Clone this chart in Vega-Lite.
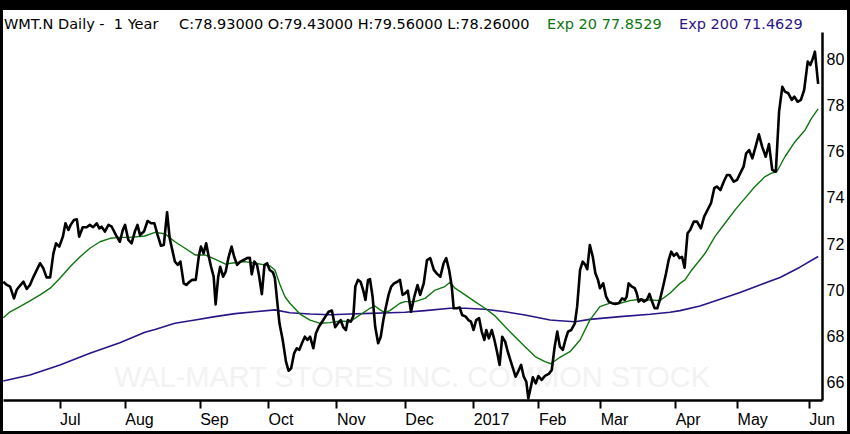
{
  "$schema": "https://vega.github.io/schema/vega-lite/v6.json",
  "width": 819,
  "height": 368,
  "autosize": {"type": "none"},
  "padding": {"left": 3, "top": 32, "right": 28, "bottom": 34},
  "background": "#ffffff",
  "config": {"view": {"stroke": null}},
  "datasets": {
    "header": [
      {"t": "WMT.N Daily -\u00a0 1 Year", "k": "close", "d": -17.07, "v": 81.33},
      {"t": "C:78.93000 O:79.43000 H:79.56000 L:78.26000", "k": "close", "d": 36.66, "v": 81.33},
      {"t": "Exp 20 77.8529", "k": "ema20", "d": 149.66, "v": 81.33},
      {"t": "Exp 200 71.4629", "k": "ema200", "d": 190.17, "v": 81.33}
    ],
    "watermark": [
      {"t": "WAL-MART STORES INC. COMMON STOCK", "d": 108.2, "v": 65.81}
    ],
    "border": [
      {"d": -18.30, "d2": 242.68, "v": 82.567, "v2": 82.134},
      {"d": -18.30, "d2": 242.68, "v": 63.909, "v2": 63.779},
      {"d": -18.30, "d2": -17.38, "v": 82.567, "v2": 63.779},
      {"d": 241.76, "d2": 242.68, "v": 82.567, "v2": 63.779}
    ],
    "prices": [
      {"s": "close", "d": -17.3, "v": 70.37}, {"s": "close", "d": -16.2, "v": 70.23}, {"s": "close", "d": -15.2, "v": 70.16},
      {"s": "close", "d": -14.0, "v": 69.65}, {"s": "close", "d": -13.2, "v": 70.01}, {"s": "close", "d": -12.4, "v": 70.16},
      {"s": "close", "d": -11.1, "v": 70.37}, {"s": "close", "d": -10.1, "v": 70.06}, {"s": "close", "d": -9.1, "v": 70.23},
      {"s": "close", "d": -8.1, "v": 70.56}, {"s": "close", "d": -7.0, "v": 70.88}, {"s": "close", "d": -6.0, "v": 71.17},
      {"s": "close", "d": -5.0, "v": 70.95}, {"s": "close", "d": -4.0, "v": 70.56}, {"s": "close", "d": -2.9, "v": 70.56},
      {"s": "close", "d": -1.9, "v": 71.60}, {"s": "close", "d": -1.1, "v": 72.03}, {"s": "close", "d": -0.1, "v": 71.89},
      {"s": "close", "d": 1.0, "v": 72.32}, {"s": "close", "d": 1.8, "v": 72.90}, {"s": "close", "d": 2.7, "v": 72.61},
      {"s": "close", "d": 3.4, "v": 72.83}, {"s": "close", "d": 4.4, "v": 73.04}, {"s": "close", "d": 5.3, "v": 73.07},
      {"s": "close", "d": 6.0, "v": 72.32}, {"s": "close", "d": 7.1, "v": 72.73}, {"s": "close", "d": 8.3, "v": 72.73},
      {"s": "close", "d": 9.3, "v": 72.83}, {"s": "close", "d": 10.3, "v": 72.73}, {"s": "close", "d": 11.4, "v": 72.90},
      {"s": "close", "d": 12.2, "v": 72.68}, {"s": "close", "d": 12.9, "v": 72.75}, {"s": "close", "d": 13.9, "v": 72.54},
      {"s": "close", "d": 15.0, "v": 72.83}, {"s": "close", "d": 16.0, "v": 72.75}, {"s": "close", "d": 17.3, "v": 72.39},
      {"s": "close", "d": 18.5, "v": 72.10}, {"s": "close", "d": 19.4, "v": 72.61}, {"s": "close", "d": 20.1, "v": 72.83},
      {"s": "close", "d": 21.1, "v": 72.18}, {"s": "close", "d": 22.1, "v": 72.03}, {"s": "close", "d": 23.1, "v": 72.54},
      {"s": "close", "d": 23.9, "v": 72.83}, {"s": "close", "d": 24.7, "v": 72.39}, {"s": "close", "d": 25.9, "v": 72.54},
      {"s": "close", "d": 27.0, "v": 73.00}, {"s": "close", "d": 28.1, "v": 72.90}, {"s": "close", "d": 29.1, "v": 72.90},
      {"s": "close", "d": 30.1, "v": 72.39}, {"s": "close", "d": 31.1, "v": 71.93}, {"s": "close", "d": 32.0, "v": 71.96},
      {"s": "close", "d": 33.0, "v": 73.38}, {"s": "close", "d": 33.8, "v": 72.25}, {"s": "close", "d": 34.6, "v": 71.74},
      {"s": "close", "d": 35.4, "v": 71.24}, {"s": "close", "d": 36.3, "v": 71.10}, {"s": "close", "d": 37.1, "v": 71.24},
      {"s": "close", "d": 38.1, "v": 70.30}, {"s": "close", "d": 38.9, "v": 70.23}, {"s": "close", "d": 39.9, "v": 70.37},
      {"s": "close", "d": 40.7, "v": 70.45}, {"s": "close", "d": 41.8, "v": 70.45}, {"s": "close", "d": 42.8, "v": 71.53},
      {"s": "close", "d": 43.4, "v": 71.89}, {"s": "close", "d": 44.2, "v": 71.60}, {"s": "close", "d": 45.0, "v": 72.03},
      {"s": "close", "d": 45.7, "v": 71.53}, {"s": "close", "d": 46.5, "v": 71.02}, {"s": "close", "d": 47.3, "v": 70.59},
      {"s": "close", "d": 47.9, "v": 69.39}, {"s": "close", "d": 48.7, "v": 70.59}, {"s": "close", "d": 49.3, "v": 71.02},
      {"s": "close", "d": 50.2, "v": 70.59}, {"s": "close", "d": 51.0, "v": 70.81}, {"s": "close", "d": 51.8, "v": 71.39},
      {"s": "close", "d": 52.8, "v": 71.89}, {"s": "close", "d": 53.6, "v": 71.45}, {"s": "close", "d": 54.5, "v": 71.10},
      {"s": "close", "d": 55.5, "v": 71.24}, {"s": "close", "d": 56.5, "v": 71.31}, {"s": "close", "d": 57.5, "v": 71.39},
      {"s": "close", "d": 58.4, "v": 71.41}, {"s": "close", "d": 59.0, "v": 70.69}, {"s": "close", "d": 59.8, "v": 71.24},
      {"s": "close", "d": 60.6, "v": 71.10}, {"s": "close", "d": 61.2, "v": 70.66}, {"s": "close", "d": 62.1, "v": 69.83},
      {"s": "close", "d": 62.9, "v": 71.10}, {"s": "close", "d": 63.7, "v": 71.17}, {"s": "close", "d": 64.5, "v": 70.88},
      {"s": "close", "d": 65.5, "v": 70.78}, {"s": "close", "d": 66.1, "v": 70.52}, {"s": "close", "d": 67.5, "v": 68.57},
      {"s": "close", "d": 68.5, "v": 67.85}, {"s": "close", "d": 69.5, "v": 66.91}, {"s": "close", "d": 70.3, "v": 66.52},
      {"s": "close", "d": 71.1, "v": 66.62}, {"s": "close", "d": 72.0, "v": 67.27}, {"s": "close", "d": 72.8, "v": 67.49},
      {"s": "close", "d": 73.6, "v": 67.42}, {"s": "close", "d": 74.4, "v": 67.71}, {"s": "close", "d": 75.3, "v": 67.99},
      {"s": "close", "d": 76.1, "v": 67.85}, {"s": "close", "d": 76.9, "v": 67.99}, {"s": "close", "d": 77.9, "v": 67.49},
      {"s": "close", "d": 78.7, "v": 68.14}, {"s": "close", "d": 79.6, "v": 68.42}, {"s": "close", "d": 80.6, "v": 68.64},
      {"s": "close", "d": 81.6, "v": 68.86}, {"s": "close", "d": 82.6, "v": 69.07}, {"s": "close", "d": 83.6, "v": 69.12},
      {"s": "close", "d": 84.6, "v": 68.40}, {"s": "close", "d": 85.5, "v": 68.57}, {"s": "close", "d": 86.3, "v": 68.71},
      {"s": "close", "d": 87.1, "v": 68.40}, {"s": "close", "d": 87.9, "v": 68.28}, {"s": "close", "d": 88.5, "v": 68.71},
      {"s": "close", "d": 89.4, "v": 68.64}, {"s": "close", "d": 90.2, "v": 68.89}, {"s": "close", "d": 90.8, "v": 70.16},
      {"s": "close", "d": 91.6, "v": 70.45}, {"s": "close", "d": 92.4, "v": 70.37}, {"s": "close", "d": 93.2, "v": 70.01},
      {"s": "close", "d": 93.9, "v": 69.58}, {"s": "close", "d": 94.7, "v": 70.45}, {"s": "close", "d": 95.3, "v": 70.48},
      {"s": "close", "d": 96.1, "v": 69.72}, {"s": "close", "d": 96.9, "v": 68.42}, {"s": "close", "d": 97.8, "v": 67.71},
      {"s": "close", "d": 98.6, "v": 67.99}, {"s": "close", "d": 99.4, "v": 68.71}, {"s": "close", "d": 100.2, "v": 69.29},
      {"s": "close", "d": 101.0, "v": 69.80}, {"s": "close", "d": 101.8, "v": 70.16}, {"s": "close", "d": 102.7, "v": 70.30},
      {"s": "close", "d": 103.7, "v": 70.37}, {"s": "close", "d": 104.5, "v": 70.45}, {"s": "close", "d": 105.3, "v": 69.80},
      {"s": "close", "d": 106.1, "v": 69.87}, {"s": "close", "d": 106.9, "v": 69.98}, {"s": "close", "d": 107.9, "v": 69.07},
      {"s": "close", "d": 108.9, "v": 69.72}, {"s": "close", "d": 109.9, "v": 70.23}, {"s": "close", "d": 110.7, "v": 69.80},
      {"s": "close", "d": 111.8, "v": 70.30}, {"s": "close", "d": 112.8, "v": 71.31}, {"s": "close", "d": 113.8, "v": 71.39},
      {"s": "close", "d": 114.9, "v": 70.88}, {"s": "close", "d": 115.9, "v": 70.71}, {"s": "close", "d": 116.9, "v": 70.59},
      {"s": "close", "d": 117.9, "v": 71.17}, {"s": "close", "d": 118.7, "v": 71.39}, {"s": "close", "d": 119.6, "v": 70.88},
      {"s": "close", "d": 120.4, "v": 70.16}, {"s": "close", "d": 121.0, "v": 69.22}, {"s": "close", "d": 122.0, "v": 69.22},
      {"s": "close", "d": 122.8, "v": 69.26}, {"s": "close", "d": 123.6, "v": 68.93}, {"s": "close", "d": 124.7, "v": 68.86},
      {"s": "close", "d": 125.5, "v": 68.71}, {"s": "close", "d": 126.3, "v": 68.64}, {"s": "close", "d": 127.1, "v": 68.28},
      {"s": "close", "d": 127.9, "v": 68.71}, {"s": "close", "d": 128.8, "v": 68.79}, {"s": "close", "d": 129.6, "v": 68.21},
      {"s": "close", "d": 130.4, "v": 67.85}, {"s": "close", "d": 131.0, "v": 68.28}, {"s": "close", "d": 131.8, "v": 67.92},
      {"s": "close", "d": 132.7, "v": 68.28}, {"s": "close", "d": 133.5, "v": 67.85}, {"s": "close", "d": 134.3, "v": 67.34},
      {"s": "close", "d": 135.1, "v": 66.77}, {"s": "close", "d": 135.9, "v": 67.99}, {"s": "close", "d": 136.8, "v": 67.78},
      {"s": "close", "d": 137.6, "v": 67.34}, {"s": "close", "d": 138.4, "v": 66.98}, {"s": "close", "d": 139.2, "v": 66.62},
      {"s": "close", "d": 140.0, "v": 66.26}, {"s": "close", "d": 140.8, "v": 66.48}, {"s": "close", "d": 141.7, "v": 66.77},
      {"s": "close", "d": 142.5, "v": 66.26}, {"s": "close", "d": 143.3, "v": 66.04}, {"s": "close", "d": 143.9, "v": 65.32},
      {"s": "close", "d": 144.7, "v": 65.83}, {"s": "close", "d": 145.3, "v": 66.23}, {"s": "close", "d": 146.2, "v": 65.97},
      {"s": "close", "d": 147.0, "v": 66.29}, {"s": "close", "d": 148.0, "v": 66.12}, {"s": "close", "d": 149.0, "v": 66.29},
      {"s": "close", "d": 150.2, "v": 66.38}, {"s": "close", "d": 151.1, "v": 66.55}, {"s": "close", "d": 152.0, "v": 67.56},
      {"s": "close", "d": 152.8, "v": 68.21}, {"s": "close", "d": 153.6, "v": 67.56}, {"s": "close", "d": 154.5, "v": 67.42},
      {"s": "close", "d": 155.3, "v": 67.85}, {"s": "close", "d": 156.1, "v": 68.21}, {"s": "close", "d": 157.1, "v": 68.28},
      {"s": "close", "d": 158.2, "v": 68.57}, {"s": "close", "d": 158.9, "v": 69.29}, {"s": "close", "d": 159.8, "v": 70.88},
      {"s": "close", "d": 160.6, "v": 71.24}, {"s": "close", "d": 161.4, "v": 71.10}, {"s": "close", "d": 162.0, "v": 70.91},
      {"s": "close", "d": 162.8, "v": 71.96}, {"s": "close", "d": 163.7, "v": 71.45}, {"s": "close", "d": 164.5, "v": 70.74},
      {"s": "close", "d": 165.3, "v": 70.45}, {"s": "close", "d": 165.9, "v": 70.09}, {"s": "close", "d": 166.9, "v": 70.30},
      {"s": "close", "d": 167.8, "v": 69.72}, {"s": "close", "d": 168.6, "v": 69.51}, {"s": "close", "d": 169.6, "v": 69.44},
      {"s": "close", "d": 170.6, "v": 69.41}, {"s": "close", "d": 171.7, "v": 69.44}, {"s": "close", "d": 172.7, "v": 69.65},
      {"s": "close", "d": 173.5, "v": 69.58}, {"s": "close", "d": 174.1, "v": 69.72}, {"s": "close", "d": 174.7, "v": 70.30},
      {"s": "close", "d": 175.7, "v": 70.16}, {"s": "close", "d": 176.6, "v": 70.09}, {"s": "close", "d": 177.2, "v": 69.87},
      {"s": "close", "d": 177.8, "v": 69.51}, {"s": "close", "d": 178.6, "v": 69.61}, {"s": "close", "d": 179.4, "v": 69.51},
      {"s": "close", "d": 180.3, "v": 69.58}, {"s": "close", "d": 181.1, "v": 69.84}, {"s": "close", "d": 181.9, "v": 69.51},
      {"s": "close", "d": 182.7, "v": 69.22}, {"s": "close", "d": 183.5, "v": 69.22}, {"s": "close", "d": 184.3, "v": 69.58},
      {"s": "close", "d": 185.4, "v": 70.23}, {"s": "close", "d": 186.2, "v": 70.74}, {"s": "close", "d": 187.0, "v": 71.31},
      {"s": "close", "d": 187.8, "v": 71.67}, {"s": "close", "d": 188.6, "v": 71.49}, {"s": "close", "d": 189.5, "v": 71.60},
      {"s": "close", "d": 190.3, "v": 71.39}, {"s": "close", "d": 191.1, "v": 71.45}, {"s": "close", "d": 191.9, "v": 70.98},
      {"s": "close", "d": 192.8, "v": 72.47}, {"s": "close", "d": 193.6, "v": 72.61}, {"s": "close", "d": 194.7, "v": 72.97},
      {"s": "close", "d": 195.7, "v": 72.97}, {"s": "close", "d": 196.9, "v": 72.68}, {"s": "close", "d": 197.9, "v": 73.19},
      {"s": "close", "d": 199.2, "v": 73.55}, {"s": "close", "d": 200.0, "v": 73.77}, {"s": "close", "d": 201.0, "v": 74.42},
      {"s": "close", "d": 201.8, "v": 74.49}, {"s": "close", "d": 202.9, "v": 74.34}, {"s": "close", "d": 203.9, "v": 74.70},
      {"s": "close", "d": 204.9, "v": 74.99}, {"s": "close", "d": 205.7, "v": 74.99}, {"s": "close", "d": 207.0, "v": 74.70},
      {"s": "close", "d": 208.0, "v": 74.78}, {"s": "close", "d": 209.0, "v": 75.07}, {"s": "close", "d": 210.0, "v": 75.35},
      {"s": "close", "d": 210.8, "v": 75.93}, {"s": "close", "d": 211.7, "v": 76.07}, {"s": "close", "d": 212.7, "v": 75.71},
      {"s": "close", "d": 213.7, "v": 76.22}, {"s": "close", "d": 214.7, "v": 76.75}, {"s": "close", "d": 215.7, "v": 76.22},
      {"s": "close", "d": 216.8, "v": 75.78}, {"s": "close", "d": 217.8, "v": 76.33}, {"s": "close", "d": 218.8, "v": 75.21},
      {"s": "close", "d": 219.9, "v": 75.13}, {"s": "close", "d": 220.9, "v": 77.73}, {"s": "close", "d": 221.9, "v": 78.81},
      {"s": "close", "d": 222.7, "v": 78.60}, {"s": "close", "d": 223.7, "v": 78.53}, {"s": "close", "d": 224.8, "v": 78.24},
      {"s": "close", "d": 225.6, "v": 78.38}, {"s": "close", "d": 226.6, "v": 78.16}, {"s": "close", "d": 227.6, "v": 78.24},
      {"s": "close", "d": 228.6, "v": 78.67}, {"s": "close", "d": 229.7, "v": 79.90}, {"s": "close", "d": 230.5, "v": 79.75},
      {"s": "close", "d": 231.3, "v": 80.04}, {"s": "close", "d": 231.9, "v": 80.33}, {"s": "close", "d": 232.9, "v": 78.93},

      {"s": "ema20", "d": -17.3, "v": 68.81}, {"s": "ema20", "d": -15.2, "v": 69.07}, {"s": "ema20", "d": -12.2, "v": 69.29},
      {"s": "ema20", "d": -9.1, "v": 69.54}, {"s": "ema20", "d": -6.0, "v": 69.80}, {"s": "ema20", "d": -2.9, "v": 70.09},
      {"s": "ema20", "d": 0.1, "v": 70.52}, {"s": "ema20", "d": 3.2, "v": 71.02}, {"s": "ema20", "d": 6.3, "v": 71.45},
      {"s": "ema20", "d": 9.3, "v": 71.82}, {"s": "ema20", "d": 12.4, "v": 72.10}, {"s": "ema20", "d": 15.5, "v": 72.25},
      {"s": "ema20", "d": 18.5, "v": 72.29}, {"s": "ema20", "d": 21.6, "v": 72.29}, {"s": "ema20", "d": 26.2, "v": 72.35},
      {"s": "ema20", "d": 29.3, "v": 72.51}, {"s": "ema20", "d": 32.4, "v": 72.44}, {"s": "ema20", "d": 35.4, "v": 72.10},
      {"s": "ema20", "d": 38.5, "v": 71.82}, {"s": "ema20", "d": 41.6, "v": 71.53}, {"s": "ema20", "d": 44.6, "v": 71.53},
      {"s": "ema20", "d": 47.7, "v": 71.35}, {"s": "ema20", "d": 50.8, "v": 71.14}, {"s": "ema20", "d": 53.9, "v": 71.19},
      {"s": "ema20", "d": 56.9, "v": 71.24}, {"s": "ema20", "d": 60.0, "v": 71.17}, {"s": "ema20", "d": 63.1, "v": 71.10},
      {"s": "ema20", "d": 64.6, "v": 71.05}, {"s": "ema20", "d": 66.1, "v": 70.88}, {"s": "ema20", "d": 67.7, "v": 70.23},
      {"s": "ema20", "d": 69.2, "v": 69.72}, {"s": "ema20", "d": 70.7, "v": 69.44}, {"s": "ema20", "d": 73.8, "v": 68.97},
      {"s": "ema20", "d": 76.9, "v": 68.71}, {"s": "ema20", "d": 80.0, "v": 68.57}, {"s": "ema20", "d": 83.0, "v": 68.60},
      {"s": "ema20", "d": 86.1, "v": 68.67}, {"s": "ema20", "d": 89.2, "v": 68.64}, {"s": "ema20", "d": 92.2, "v": 68.93},
      {"s": "ema20", "d": 95.3, "v": 69.22}, {"s": "ema20", "d": 96.8, "v": 69.32}, {"s": "ema20", "d": 98.4, "v": 69.15},
      {"s": "ema20", "d": 99.9, "v": 69.03}, {"s": "ema20", "d": 101.4, "v": 69.12}, {"s": "ema20", "d": 104.5, "v": 69.44},
      {"s": "ema20", "d": 106.1, "v": 69.51}, {"s": "ema20", "d": 109.1, "v": 69.51}, {"s": "ema20", "d": 112.2, "v": 69.65},
      {"s": "ema20", "d": 115.3, "v": 70.01}, {"s": "ema20", "d": 118.3, "v": 70.16}, {"s": "ema20", "d": 119.9, "v": 70.35},
      {"s": "ema20", "d": 121.4, "v": 70.09}, {"s": "ema20", "d": 124.5, "v": 69.80}, {"s": "ema20", "d": 127.5, "v": 69.51},
      {"s": "ema20", "d": 130.6, "v": 69.22}, {"s": "ema20", "d": 133.7, "v": 68.89}, {"s": "ema20", "d": 136.8, "v": 68.42},
      {"s": "ema20", "d": 139.8, "v": 67.99}, {"s": "ema20", "d": 142.9, "v": 67.56}, {"s": "ema20", "d": 146.0, "v": 67.13},
      {"s": "ema20", "d": 149.0, "v": 66.91}, {"s": "ema20", "d": 150.9, "v": 66.82}, {"s": "ema20", "d": 153.6, "v": 67.10},
      {"s": "ema20", "d": 156.7, "v": 67.34}, {"s": "ema20", "d": 159.8, "v": 67.85}, {"s": "ema20", "d": 162.8, "v": 68.71},
      {"s": "ema20", "d": 165.9, "v": 69.29}, {"s": "ema20", "d": 169.0, "v": 69.44}, {"s": "ema20", "d": 172.1, "v": 69.44},
      {"s": "ema20", "d": 175.1, "v": 69.55}, {"s": "ema20", "d": 178.2, "v": 69.61}, {"s": "ema20", "d": 181.3, "v": 69.58},
      {"s": "ema20", "d": 184.3, "v": 69.55}, {"s": "ema20", "d": 187.4, "v": 69.87}, {"s": "ema20", "d": 190.5, "v": 70.30},
      {"s": "ema20", "d": 192.0, "v": 70.45}, {"s": "ema20", "d": 194.1, "v": 70.88}, {"s": "ema20", "d": 198.2, "v": 71.60},
      {"s": "ema20", "d": 201.2, "v": 72.32}, {"s": "ema20", "d": 204.3, "v": 72.90}, {"s": "ema20", "d": 207.4, "v": 73.48},
      {"s": "ema20", "d": 210.4, "v": 73.98}, {"s": "ema20", "d": 213.5, "v": 74.49}, {"s": "ema20", "d": 216.6, "v": 74.92},
      {"s": "ema20", "d": 218.6, "v": 75.07}, {"s": "ema20", "d": 220.2, "v": 75.13}, {"s": "ema20", "d": 222.7, "v": 75.78},
      {"s": "ema20", "d": 225.8, "v": 76.43}, {"s": "ema20", "d": 228.9, "v": 76.94}, {"s": "ema20", "d": 230.9, "v": 77.45},
      {"s": "ema20", "d": 232.9, "v": 77.85},

      {"s": "ema200", "d": -17.3, "v": 66.07}, {"s": "ema200", "d": -9.1, "v": 66.33}, {"s": "ema200", "d": 0.1, "v": 66.77},
      {"s": "ema200", "d": 9.3, "v": 67.27}, {"s": "ema200", "d": 18.5, "v": 67.73}, {"s": "ema200", "d": 26.2, "v": 68.18},
      {"s": "ema200", "d": 29.3, "v": 68.30}, {"s": "ema200", "d": 35.4, "v": 68.57}, {"s": "ema200", "d": 41.6, "v": 68.71},
      {"s": "ema200", "d": 47.7, "v": 68.86}, {"s": "ema200", "d": 53.9, "v": 68.99}, {"s": "ema200", "d": 60.0, "v": 69.07},
      {"s": "ema200", "d": 66.1, "v": 69.15}, {"s": "ema200", "d": 70.7, "v": 69.03}, {"s": "ema200", "d": 76.9, "v": 68.97},
      {"s": "ema200", "d": 83.0, "v": 68.94}, {"s": "ema200", "d": 89.2, "v": 68.97}, {"s": "ema200", "d": 95.3, "v": 69.00},
      {"s": "ema200", "d": 101.4, "v": 69.03}, {"s": "ema200", "d": 106.1, "v": 69.05}, {"s": "ema200", "d": 112.2, "v": 69.12},
      {"s": "ema200", "d": 119.9, "v": 69.22}, {"s": "ema200", "d": 124.5, "v": 69.22}, {"s": "ema200", "d": 130.6, "v": 69.18},
      {"s": "ema200", "d": 136.8, "v": 69.07}, {"s": "ema200", "d": 142.9, "v": 68.93}, {"s": "ema200", "d": 150.6, "v": 68.71},
      {"s": "ema200", "d": 153.6, "v": 68.68}, {"s": "ema200", "d": 158.2, "v": 68.64}, {"s": "ema200", "d": 162.8, "v": 68.74},
      {"s": "ema200", "d": 172.1, "v": 68.86}, {"s": "ema200", "d": 181.3, "v": 68.96}, {"s": "ema200", "d": 187.4, "v": 69.05},
      {"s": "ema200", "d": 190.5, "v": 69.12}, {"s": "ema200", "d": 196.6, "v": 69.32}, {"s": "ema200", "d": 202.8, "v": 69.61},
      {"s": "ema200", "d": 208.9, "v": 69.90}, {"s": "ema200", "d": 215.0, "v": 70.23}, {"s": "ema200", "d": 221.2, "v": 70.55},
      {"s": "ema200", "d": 227.3, "v": 71.00}, {"s": "ema200", "d": 232.9, "v": 71.46}
    ]
  },
  "data": {"name": "prices"},
  "encoding": {
    "x": {
      "field": "d",
      "type": "quantitative",
      "scale": {"domain": [-17.38, 234.08], "nice": false, "zero": false},
      "axis": {
        "orient": "bottom",
        "values": [0, 20, 43, 64, 85, 106, 127, 147, 166, 189, 208, 230],
        "labelExpr": "['Jul','Aug','Sep','Oct','Nov','Dec','2017','Feb','Mar','Apr','May','Jun'][indexof([0,20,43,64,85,106,127,147,166,189,208,230], datum.value)]",
        "domain": true,
        "domainColor": "#000000",
        "domainWidth": 2.5,
        "grid": false,
        "ticks": true,
        "tickSize": 8,
        "tickWidth": 2,
        "tickColor": "#000000",
        "labelAlign": "left",
        "labelDx": 1,
        "labelPadding": 3,
        "labelFont": "Liberation Sans",
        "labelFontSize": 16,
        "labelColor": "#000000",
        "labelOverlap": false,
        "labelFlush": false,
        "title": null
      }
    },
    "y": {
      "field": "v",
      "type": "quantitative",
      "scale": {"domain": [65.25, 81.18], "nice": false, "zero": false},
      "axis": {
        "orient": "right",
        "values": [66, 68, 70, 72, 74, 76, 78, 80],
        "domain": true,
        "domainColor": "#000000",
        "domainWidth": 2.5,
        "grid": false,
        "ticks": false,
        "labelPadding": 4,
        "labelFont": "Liberation Sans",
        "labelFontSize": 16,
        "labelColor": "#000000",
        "labelFlush": false,
        "title": null
      }
    }
  },
  "layer": [
    {
      "data": {"name": "border"},
      "mark": {"type": "rect", "color": "#000000"},
      "encoding": {
        "x2": {"field": "d2"},
        "y2": {"field": "v2"}
      }
    },
    {
      "data": {"name": "watermark"},
      "mark": {"type": "text", "font": "Liberation Sans", "fontSize": 29, "color": "#f2f2f2", "align": "center", "baseline": "alphabetic"},
      "encoding": {"text": {"field": "t"}}
    },
    {
      "transform": [{"filter": "datum.s === 'ema200'"}],
      "mark": {"type": "line", "color": "#2b1487", "strokeWidth": 1.6, "strokeJoin": "round"}
    },
    {
      "transform": [{"filter": "datum.s === 'ema20'"}],
      "mark": {"type": "line", "color": "#0f760f", "strokeWidth": 1.4, "strokeJoin": "round"}
    },
    {
      "transform": [{"filter": "datum.s === 'close'"}],
      "mark": {"type": "line", "color": "#000000", "strokeWidth": 2.6, "strokeJoin": "round"}
    },
    {
      "data": {"name": "header"},
      "mark": {"type": "text", "font": "DejaVu Sans", "fontSize": 14.5, "align": "left", "baseline": "alphabetic"},
      "encoding": {
        "text": {"field": "t"},
        "color": {
          "field": "k",
          "type": "nominal",
          "scale": {"domain": ["close", "ema20", "ema200"], "range": ["#000000", "#0f760f", "#2b1487"]},
          "legend": null
        }
      }
    }
  ]
}
